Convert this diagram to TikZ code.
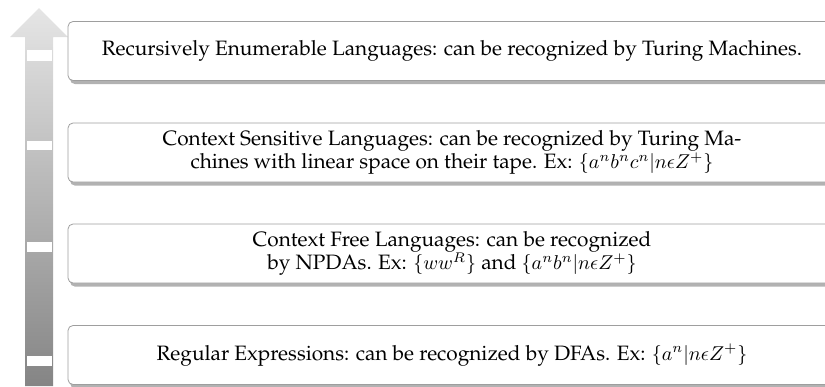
\documentclass[tikz,border=0pt]{standalone}
\usepackage[T1]{fontenc}
\usepackage{palatino}
\usepackage{amsmath}
\usepackage{tikz}
\usetikzlibrary{shadows}

\begin{document}
\begin{tikzpicture}[x=0.5pt,y=-0.5pt]
    \tikzstyle{level}=[draw=black!38,thin,rounded corners=2.5pt,fill=white,minimum width=384pt,minimum height=29.5pt,align=center,inner sep=2pt,font=\fontsize{10.4pt}{11.8pt}\selectfont,drop shadow={shadow xshift=1pt,shadow yshift=-1.8pt,fill=black!30,opacity=1}]
    \tikzstyle{tick}=[fill=white]

    \path[use as bounding box,clip] (0,0) rectangle (825,386);

    % Arrow
    \shade[top color=black!10,bottom color=black!48] (25,386) -- (25,37) -- (10,37) -- (39,8) -- (68,37) -- (53,37) -- (53,386) -- cycle;
    \fill[style=tick] (27,50) rectangle (52,61);
    \fill[style=tick] (27,141) rectangle (52,150);
    \fill[style=tick] (27,242) rectangle (52,252);
    \fill[style=tick] (27,356) rectangle (52,366);

    % Levels
    \node[style=level] (re) at (452,51) {Recursively Enumerable Languages: can be recognized by Turing Machines.};
    \node[style=level] (cs) at (452,152.5) {Context Sensitive Languages: can be recognized by Turing Ma-\\chines with linear space on their tape. Ex: $\{a^nb^nc^n|n\epsilon Z^+\}$};
    \node[style=level] (cf) at (452,253.5) {Context Free Languages: can be recognized\\by NPDAs. Ex: $\{ww^R\}$ and $\{a^nb^n|n\epsilon Z^+\}$};
    \node[style=level] (reg) at (452,355) {Regular Expressions: can be recognized by DFAs. Ex: $\{a^n|n\epsilon Z^+\}$};

\end{tikzpicture}
\end{document}
